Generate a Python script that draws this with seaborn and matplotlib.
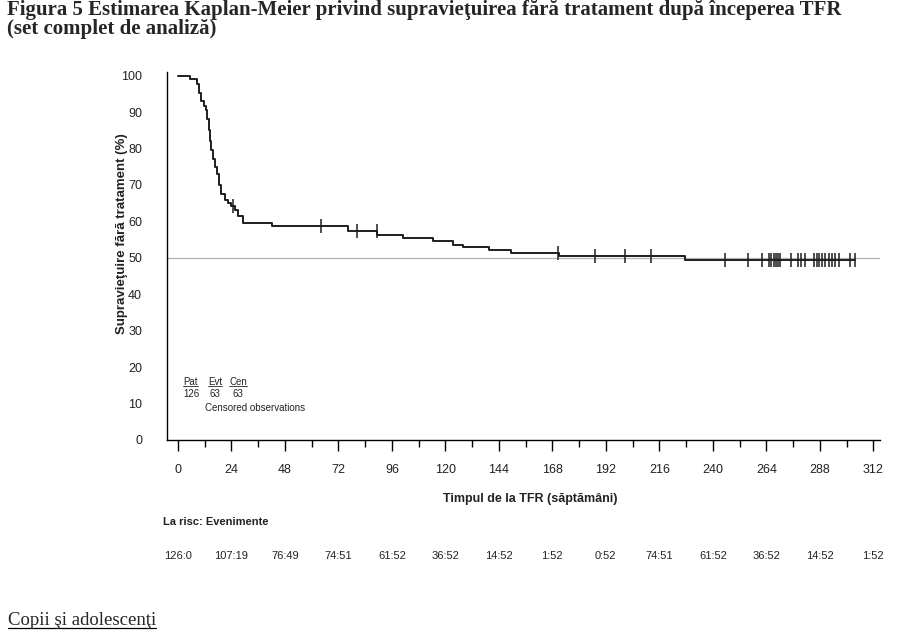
import numpy as np
import pandas as pd
import matplotlib
matplotlib.use("Agg")
import matplotlib.pyplot as plt
import seaborn as sns
from matplotlib.lines import Line2D

# Kaplan-Meier steps (weeks, % without treatment)
event_weeks = [0, 5.5, 8.5, 9.5, 10.5, 11.5, 12.5, 13.2, 13.8, 14.4, 15.0, 15.8, 16.6,
               17.6, 18.5, 19.5, 21, 22.5, 24, 25.5, 27, 29, 42, 76.5, 89.5, 101,
               114.5, 123.5, 128, 139.5, 149.5, 171, 227.5]
survival_pct = [100, 99.2, 97.6, 95.2, 93.0, 91.8, 90.5, 88.0, 85.0, 82.0, 79.5, 77.0, 75.0,
                73.0, 70.0, 67.5, 66.0, 65.0, 64.3, 63.0, 61.5, 59.6, 58.7, 57.3, 56.2, 55.5,
                54.6, 53.6, 53.0, 52.1, 51.2, 50.5, 49.5]
last_week = 303.6
censor_weeks = [24.5, 64, 80.2, 89.2, 170.7, 187, 200.5, 212.2, 245.5, 255.9, 262.2,
                265.3, 266.3, 267.3, 268.3, 269.3, 270.3, 275.2, 278, 279.5, 281.5,
                285.6, 286.7, 287.8, 289, 290.5, 292.3, 293.4, 294.6, 296.8, 301.4, 303.6]

x_ticks = list(range(0, 313, 24))
y_ticks = list(range(0, 101, 10))
risk_labels = ["126:0", "107:19", "76:49", "74:51", "61:52", "36:52", "14:52", "1:52",
               "0:52", "74:51", "61:52", "36:52", "14:52", "1:52"]

title_1 = "Figura 5 Estimarea Kaplan-Meier privind supravieţuirea fără tratament după începerea TFR"
title_2 = "(set complet de analiză)"
footer = "Copii şi adolescenţi"

sns.set_theme(style="white")
plt.rcParams["font.family"] = ["Liberation Sans", "DejaVu Sans"]

W, H = 919, 637
fig = plt.figure(figsize=(W / 100, H / 100), dpi=100)


def px(x, y):
    return x / W, 1 - y / H


ax = fig.add_axes([167 / W, 1 - 440 / H, (880 - 167) / W, (440 - 72) / H])

km = pd.DataFrame({"week": event_weeks + [last_week],
                   "surv": survival_pct + [survival_pct[-1]]})
sns.lineplot(data=km, x="week", y="surv", drawstyle="steps-post", estimator=None,
             color="#1e1e1e", linewidth=1.4, ax=ax)

idx = np.searchsorted(event_weeks, censor_weeks, side="right") - 1
censor_level = np.array(survival_pct)[idx]
sns.scatterplot(x=censor_weeks, y=censor_level, marker="|", s=110, color="#1e1e1e",
                linewidth=1.1, ax=ax)

ax.axhline(50, color="#b4b4b4", linewidth=0.9, zorder=0)

ax.set_xlim(-4.9, 315)
ax.set_ylim(0, 101)
ax.set_xticks(x_ticks)
ax.set_xticks(list(range(12, 312, 24)), minor=True)
ax.set_yticks(y_ticks)
ax.tick_params(axis="x", which="major", bottom=True, length=8, width=1, color="black",
               direction="out", pad=9, labelsize=9)
ax.tick_params(axis="x", which="minor", bottom=True, length=5, width=1, color="black",
               direction="out")
ax.tick_params(axis="y", left=False, length=0, pad=18, labelsize=9)
for lab in ax.get_xticklabels() + ax.get_yticklabels():
    lab.set_color("#222222")

for s in ["top", "right"]:
    ax.spines[s].set_visible(False)
for s in ["left", "bottom"]:
    ax.spines[s].set_color("black")
    ax.spines[s].set_linewidth(1.0)

ax.set_xlabel("Timpul de la TFR (săptămâni)", fontweight="bold", fontsize=9, color="#222222")
ax.xaxis.set_label_coords(0.51, -0.145)
ax.set_ylabel("Supravieţuire fără tratament (%)", fontweight="bold", fontsize=9.5, color="#222222")
ax.yaxis.set_label_coords(-0.055, 0.56)

# legend block inside the plot
hdr = []
for x, t in [(183, "Pat"), (208, "Evt"), (229, "Cen")]:
    hdr.append(fig.text(*px(x, 385), t, fontsize=7, color="#222222", va="baseline"))
for x, t in [(183, "126"), (210, "63"), (233, "63")]:
    fig.text(*px(x, 397), t, fontsize=7, color="#222222", va="baseline")
fig.text(*px(205, 411), "Censored observations", fontsize=7, color="#222222", va="baseline")

# numbers at risk
fig.text(*px(163, 522), "La risc: Evenimente", fontsize=8, fontweight="bold",
         color="#222222", va="center")
risk_y = 1 - (556 - 72) / (440 - 72)
for x, t in zip(x_ticks, risk_labels):
    ax.text(x, risk_y, t, transform=ax.get_xaxis_transform(), fontsize=8,
            color="#222222", ha="center", va="center")

# document text around the chart
fig.text(*px(7, 15), title_1, fontsize=15, fontweight="bold", family="Liberation Serif",
         va="baseline")
fig.text(*px(7, 34), title_2, fontsize=15, fontweight="bold", family="Liberation Serif",
         va="baseline")
foot = fig.text(*px(8, 625), footer, fontsize=13.5, family="Liberation Serif",
                va="baseline")

# underline a few texts
renderer = fig.canvas.get_renderer()
inv = fig.transFigure.inverted()
for t, col, lw in [(foot, "black", 0.9)] + [(h, "#222222", 0.6) for h in hdr]:
    bb = t.get_window_extent(renderer)
    (x0, y0), (x1, _) = inv.transform([(bb.x0, bb.y0 + 1), (bb.x1, bb.y0)])
    fig.add_artist(Line2D([x0, x1], [y0, y0], transform=fig.transFigure, color=col, lw=lw))

fig.savefig("out.png", dpi=100)
